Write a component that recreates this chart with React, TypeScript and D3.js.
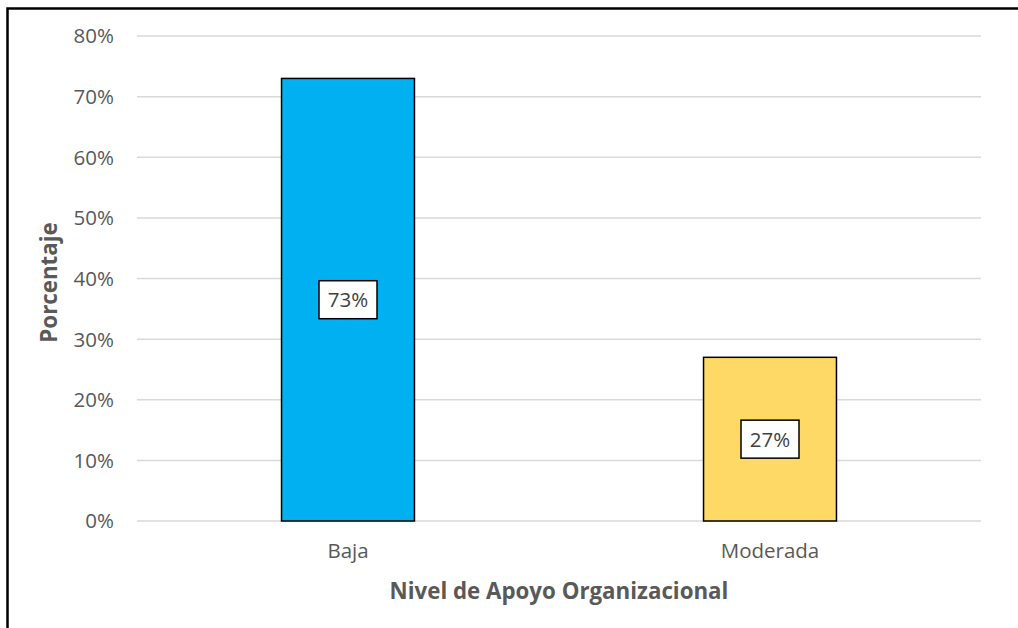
import React, { useEffect, useRef } from 'react';
import * as d3 from 'd3';

const categories = ['Baja', 'Moderada'];
const values = [73, 27];
const barColors = ['#00B0F0', '#FFD966'];
const yTicks = [0, 10, 20, 30, 40, 50, 60, 70, 80];

const W = 1018;
const H = 628;
const FONT = '"Open Sans", sans-serif';

const App: React.FC = () => {
  const ref = useRef<SVGSVGElement | null>(null);

  useEffect(() => {
    const svg = d3.select(ref.current);
    svg.selectAll('*').remove();

    const left = 137, right = 981, top = 36, bottom = 521;

    const x = d3.scaleBand().domain(categories).range([left, right])
      .paddingInner(0.685).paddingOuter(0.3425);
    const y = d3.scaleLinear().domain([0, 80]).range([bottom, top]);

    svg.append('rect').attr('width', W).attr('height', H).attr('fill', '#fff');

    // marco exterior (recortado a la derecha y abajo)
    svg.append('rect')
      .attr('x', 7.5).attr('y', 8.5).attr('width', W + 20).attr('height', H + 20)
      .attr('fill', 'none').attr('stroke', '#000').attr('stroke-width', 2.5);

    // lineas de cuadricula
    svg.append('g').selectAll('line').data(yTicks).enter().append('line')
      .attr('x1', left).attr('x2', right)
      .attr('y1', (d) => y(d)).attr('y2', (d) => y(d))
      .attr('stroke', '#D9D9D9').attr('stroke-width', 1.5);

    // etiquetas eje Y
    svg.append('g').selectAll('text').data(yTicks).enter().append('text')
      .attr('x', 114).attr('y', (d) => y(d)).attr('dy', '0.36em')
      .attr('text-anchor', 'end').attr('font-family', FONT).attr('font-size', 20.5)
      .attr('fill', '#595959').text((d) => `${d}%`);

    // barras
    svg.append('g').selectAll('rect').data(values).enter().append('rect')
      .attr('x', (d, i) => x(categories[i]) || 0)
      .attr('width', x.bandwidth())
      .attr('y', (d) => y(d))
      .attr('height', (d) => bottom - y(d))
      .attr('fill', (d, i) => barColors[i])
      .attr('stroke', '#000').attr('stroke-width', 1.5);

    // etiquetas de datos
    const lab = svg.append('g').selectAll('g').data(values).enter().append('g')
      .attr('transform', (d, i) => `translate(${(x(categories[i]) || 0) + x.bandwidth() / 2},${(y(d) + bottom) / 2})`);
    lab.append('rect')
      .attr('x', -29).attr('y', -19).attr('width', 58).attr('height', 38)
      .attr('fill', '#fff').attr('stroke', '#000').attr('stroke-width', 1.5);
    lab.append('text')
      .attr('dy', '0.36em').attr('text-anchor', 'middle')
      .attr('font-family', FONT).attr('font-size', 20.5).attr('fill', '#404040')
      .text((d) => `${d}%`);

    // etiquetas de categoria
    svg.append('g').selectAll('text').data(categories).enter().append('text')
      .attr('x', (d) => (x(d) || 0) + x.bandwidth() / 2).attr('y', 558)
      .attr('text-anchor', 'middle').attr('font-family', FONT).attr('font-size', 20.5)
      .attr('fill', '#595959').text((d) => d);

    // titulos de ejes
    svg.append('text')
      .attr('x', (left + right) / 2).attr('y', 599)
      .attr('text-anchor', 'middle').attr('font-family', FONT).attr('font-size', 22.3)
      .attr('font-weight', 'bold').attr('fill', '#595959')
      .text('Nivel de Apoyo Organizacional');

    svg.append('text')
      .attr('transform', `translate(57,${(top + bottom) / 2 + 4}) rotate(-90)`)
      .attr('text-anchor', 'middle').attr('font-family', FONT).attr('font-size', 22.3)
      .attr('font-weight', 'bold').attr('fill', '#595959')
      .text('Porcentaje');
  }, []);

  return (
    <svg ref={ref} width={W} height={H}
      style={{ position: 'absolute', left: 0, top: 0, display: 'block' }} />
  );
};

export default App;
